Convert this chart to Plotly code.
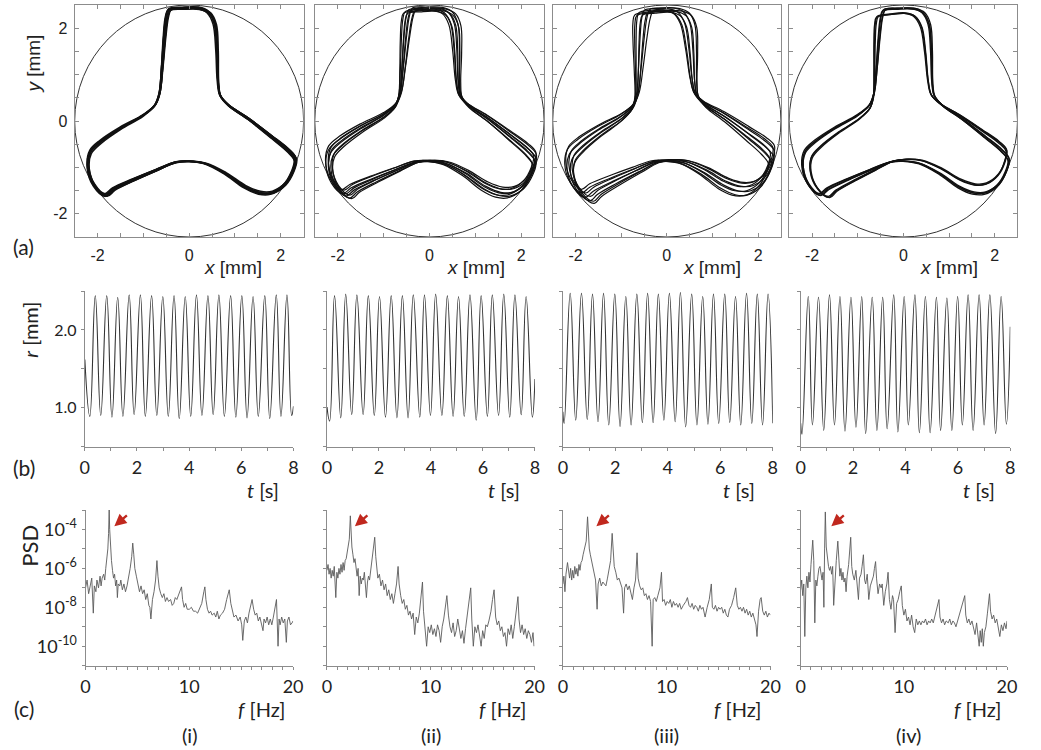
import numpy as np
import plotly.graph_objects as go

W, H = 1041, 750

# ----------------------------- DATA -----------------------------
CIRCLE_R = 2.5  # mm, boundary circle

# base three-lobed trajectory outline (mm)
OUT_X = [-0.43, -0.14, 0.22, 0.43, 0.56, 0.61, 0.63, 0.68, 0.86, 1.29, 1.80, 2.16, 2.32, 2.26, 2.08,
         1.80, 1.54, 1.22, 0.79, 0.36, 0.00, -0.29, -0.72, -1.22, -1.65, -1.83, -2.08, -2.21, -2.16,
         -1.94, -1.51, -1.01, -0.75, -0.65, -0.59, -0.54, -0.49, -0.43]
OUT_Y = [2.40, 2.43, 2.43, 2.34, 2.09, 1.52, 0.87, 0.55, 0.34, 0.05, -0.34, -0.63, -0.83, -1.09, -1.38,
         -1.55, -1.55, -1.42, -1.13, -0.92, -0.87, -0.89, -1.06, -1.27, -1.47, -1.60, -1.38, -0.99, -0.67,
         -0.45, -0.16, 0.12, 0.34, 0.59, 1.16, 1.80, 2.23, 2.40]

# per-loop (rotation in degrees, scale) estimated from the strand spread
LOOPS_I = [(-1.0, 1.00), (-0.5, 0.995), (0.0, 1.0), (0.5, 1.005), (1.0, 0.995), (0.3, 1.01), (-0.3, 0.99)]
LOOPS_II = [(-3.5, 1.0), (-2.5, 0.98), (-1.5, 1.01), (-0.5, 0.99), (0.5, 1.0), (1.5, 0.97), (2.5, 0.99), (3.5, 0.98)]
LOOPS_III = [(-3.0, 0.98), (-1.5, 1.0), (0.0, 0.97), (1.5, 1.0), (3.0, 0.96), (4.5, 0.99), (6.0, 0.97), (7.0, 0.98)]
LOOPS_IV = [(-1.0, 1.0), (-0.5, 0.99), (0.0, 1.0), (0.5, 0.995), (3.5, 0.95), (4.0, 0.955), (4.5, 0.95)]

# r(t) extrema per panel
R1_START, R1_END = (0.0, 1.62), (8.0, 1.02)
R1_TROUGH_T = [0.19, 0.61, 1.04, 1.46, 1.89, 2.32, 2.76, 3.20, 3.62, 4.06, 4.49, 4.92, 5.35, 5.79, 6.22, 6.65, 7.09, 7.52, 7.93]
R1_TROUGH_R = [0.89, 0.90, 0.88, 0.89, 0.91, 0.89, 0.90, 0.89, 0.86, 0.89, 0.90, 0.91, 0.89, 0.88, 0.87, 0.89, 0.86, 0.89, 0.90]
R1_PEAK_T = [0.40, 0.84, 1.26, 1.70, 2.13, 2.56, 2.99, 3.42, 3.85, 4.28, 4.72, 5.14, 5.59, 6.02, 6.45, 6.90, 7.34, 7.75]
R1_PEAK_R = [2.44, 2.44, 2.42, 2.45, 2.45, 2.44, 2.43, 2.44, 2.43, 2.45, 2.44, 2.45, 2.44, 2.44, 2.43, 2.44, 2.45, 2.45]

R2_START, R2_END = (0.0, 1.01), (8.0, 1.37)
R2_TROUGH_T = [0.10, 0.53, 0.95, 1.39, 1.82, 2.25, 2.69, 3.12, 3.57, 3.98, 4.42, 4.85, 5.28, 5.74, 6.17, 6.60, 7.03, 7.47, 7.90]
R2_TROUGH_R = [0.83, 0.87, 0.91, 0.91, 0.90, 0.88, 0.87, 0.87, 0.88, 0.90, 0.90, 0.89, 0.89, 0.84, 0.89, 0.90, 0.88, 0.91, 0.88]
R2_PEAK_T = [0.29, 0.72, 1.15, 1.59, 2.02, 2.47, 2.90, 3.32, 3.75, 4.18, 4.63, 5.06, 5.50, 5.93, 6.36, 6.80, 7.23, 7.66]
R2_PEAK_R = [2.44, 2.46, 2.45, 2.44, 2.43, 2.44, 2.44, 2.45, 2.45, 2.46, 2.44, 2.43, 2.45, 2.44, 2.45, 2.46, 2.45, 2.43]

R3_START, R3_END = (0.0, 0.95), (8.0, 0.80)
R3_TROUGH_T = [0.05, 0.49, 0.93, 1.34, 1.75, 2.18, 2.60, 3.03, 3.44, 3.85, 4.28, 4.68, 5.11, 5.53, 5.94, 6.36, 6.78, 7.20, 7.61]
R3_TROUGH_R = [0.80, 0.84, 0.85, 0.82, 0.78, 0.76, 0.78, 0.81, 0.81, 0.84, 0.82, 0.755, 0.78, 0.79, 0.80, 0.81, 0.78, 0.80, 0.78]
R3_PEAK_T = [0.28, 0.71, 1.13, 1.55, 1.98, 2.40, 2.82, 3.23, 3.64, 4.06, 4.48, 4.91, 5.33, 5.74, 6.17, 6.58, 7.00, 7.41, 7.82]
R3_PEAK_R = [2.47, 2.47, 2.46, 2.47, 2.46, 2.43, 2.46, 2.47, 2.46, 2.47, 2.48, 2.46, 2.43, 2.46, 2.46, 2.43, 2.47, 2.46, 2.46]

R4_START, R4_END = (0.0, 0.80), (8.0, 2.04)
R4_TROUGH_T = [0.05, 0.45, 0.88, 1.29, 1.69, 2.11, 2.48, 2.91, 3.30, 3.71, 4.11, 4.53, 4.94, 5.34, 5.77, 6.17, 6.58, 7.00, 7.44, 7.85]
R4_TROUGH_R = [0.66, 0.78, 0.71, 0.78, 0.70, 0.75, 0.67, 0.71, 0.73, 0.69, 0.78, 0.68, 0.68, 0.71, 0.71, 0.78, 0.71, 0.78, 0.67, 0.79]
R4_PEAK_T = [0.29, 0.68, 1.10, 1.50, 1.92, 2.33, 2.73, 3.13, 3.55, 3.95, 4.36, 4.76, 5.18, 5.58, 5.99, 6.39, 6.81, 7.22, 7.65]
R4_PEAK_R = [2.43, 2.42, 2.45, 2.43, 2.42, 2.43, 2.42, 2.42, 2.45, 2.43, 2.45, 2.43, 2.42, 2.41, 2.43, 2.45, 2.45, 2.45, 2.43]

# PSD spectra: (f [Hz], log10 PSD)
PSD_I = [(0.0, -7.0), (0.15, -6.6), (0.3, -7.3), (0.45, -6.8), (0.6, -6.5), (0.75, -8.3), (0.85, -6.9), (1.0, -7.2),
         (1.1, -6.6), (1.25, -7.0), (1.4, -6.4), (1.5, -6.9), (1.6, -6.5), (1.75, -6.3), (1.85, -6.6), (1.95, -6.0),
         (2.05, -5.6), (2.15, -5.0), (2.22, -4.2), (2.28, -3.0), (2.33, -4.0), (2.4, -5.0), (2.5, -5.6), (2.6, -6.1),
         (2.7, -6.5), (2.8, -6.3), (2.9, -6.9), (3.0, -6.6), (3.07, -7.5), (3.15, -6.8), (3.3, -6.9), (3.4, -6.6),
         (3.55, -7.1), (3.7, -6.8), (3.85, -7.2), (4.0, -6.9), (4.15, -6.5), (4.3, -6.0), (4.45, -5.4), (4.55, -4.7),
         (4.65, -5.3), (4.75, -6.0), (4.9, -6.4), (5.05, -6.8), (5.2, -7.2), (5.35, -6.9), (5.5, -7.3), (5.65, -7.1),
         (5.8, -7.6), (5.95, -7.3), (6.1, -7.9), (6.2, -8.0), (6.3, -8.6), (6.45, -7.6), (6.6, -7.2), (6.75, -6.6),
         (6.88, -5.6), (6.98, -6.4), (7.1, -7.0), (7.25, -7.3), (7.4, -7.5), (7.55, -7.3), (7.7, -7.7), (7.85, -7.5),
         (8.0, -7.7), (8.2, -7.6), (8.35, -7.9), (8.5, -7.8), (8.65, -7.5), (8.8, -7.6), (9.0, -7.3), (9.15, -7.0),
         (9.25, -6.95), (9.35, -7.6), (9.5, -8.0), (9.65, -7.8), (9.8, -8.1), (10.0, -8.1), (10.2, -8.0), (10.4, -8.2),
         (10.6, -8.2), (10.8, -8.3), (11.0, -8.0), (11.2, -7.8), (11.4, -7.2), (11.5, -6.95), (11.6, -7.6), (11.75, -8.1),
         (11.9, -8.3), (12.05, -8.2), (12.2, -8.4), (12.4, -8.3), (12.55, -8.5), (12.7, -8.2), (12.85, -8.6), (13.0, -8.4),
         (13.2, -8.3), (13.4, -8.1), (13.6, -7.6), (13.85, -7.1), (14.0, -7.8), (14.15, -8.2), (14.3, -8.5), (14.5, -8.4),
         (14.7, -8.7), (14.9, -8.5), (15.05, -8.9), (15.15, -9.7), (15.3, -8.7), (15.45, -8.5), (15.6, -8.8), (15.75, -8.3),
         (15.9, -8.0), (16.05, -7.6), (16.2, -8.1), (16.35, -8.4), (16.5, -8.3), (16.65, -8.7), (16.8, -8.5), (16.95, -8.8),
         (17.1, -9.2), (17.2, -8.6), (17.35, -8.8), (17.5, -8.5), (17.65, -8.9), (17.8, -8.6), (17.95, -8.9), (18.1, -8.5),
         (18.25, -8.0), (18.4, -7.6), (18.55, -10.0), (18.65, -8.6), (18.75, -8.9), (18.9, -8.5), (19.05, -8.8), (19.2, -8.6),
         (19.35, -9.8), (19.45, -8.7), (19.6, -8.5), (19.75, -8.9), (19.9, -8.8), (20.0, -8.7)]

PSD_II = [(0.0, -6.1), (0.1, -5.8), (0.2, -6.3), (0.3, -6.0), (0.4, -6.5), (0.5, -6.1), (0.6, -6.4), (0.7, -5.9),
          (0.85, -7.5), (0.95, -6.2), (1.05, -6.5), (1.15, -6.0), (1.25, -6.3), (1.35, -5.8), (1.45, -6.2), (1.55, -5.7),
          (1.65, -6.1), (1.75, -5.6), (1.85, -5.5), (1.95, -5.2), (2.05, -4.9), (2.15, -4.5), (2.25, -3.3), (2.32, -4.1),
          (2.4, -4.9), (2.5, -5.3), (2.6, -5.7), (2.7, -5.5), (2.8, -6.0), (2.9, -6.4), (3.0, -6.0), (3.1, -7.4),
          (3.2, -6.4), (3.3, -6.8), (3.4, -6.5), (3.5, -6.6), (3.6, -6.2), (3.7, -6.9), (3.8, -7.5), (3.9, -6.7),
          (4.0, -6.4), (4.1, -6.6), (4.2, -6.1), (4.35, -5.6), (4.5, -4.9), (4.6, -4.4), (4.7, -5.4), (4.8, -6.0),
          (4.9, -6.5), (5.05, -6.3), (5.2, -6.9), (5.35, -6.6), (5.5, -7.1), (5.65, -6.8), (5.8, -7.4), (5.95, -7.1),
          (6.1, -7.6), (6.25, -7.3), (6.4, -7.8), (6.55, -7.3), (6.7, -6.8), (6.85, -5.9), (6.95, -6.8), (7.1, -7.4),
          (7.25, -7.8), (7.4, -7.6), (7.55, -8.1), (7.7, -7.9), (7.85, -8.4), (8.0, -8.2), (8.15, -8.6), (8.3, -8.3),
          (8.45, -9.4), (8.6, -8.5), (8.75, -8.8), (8.9, -8.3), (9.05, -7.6), (9.2, -6.7), (9.3, -8.2), (9.45, -9.0),
          (9.6, -10.0), (9.75, -9.0), (9.9, -9.3), (10.05, -8.9), (10.2, -9.4), (10.35, -9.1), (10.5, -9.5), (10.65, -8.9),
          (10.8, -9.2), (10.95, -9.8), (11.1, -9.0), (11.25, -8.6), (11.4, -7.9), (11.55, -7.4), (11.7, -8.4), (11.85, -9.0),
          (12.0, -9.3), (12.15, -8.8), (12.3, -9.5), (12.45, -9.2), (12.6, -8.6), (12.75, -9.0), (12.9, -9.6), (13.05, -9.2),
          (13.2, -9.85), (13.35, -9.1), (13.5, -8.5), (13.7, -7.6), (13.85, -7.0), (13.95, -8.6), (14.1, -10.0), (14.25, -9.0),
          (14.4, -9.3), (14.55, -8.9), (14.7, -9.4), (14.85, -10.0), (15.0, -9.2), (15.15, -9.6), (15.3, -8.9), (15.45, -9.0),
          (15.6, -8.7), (15.8, -8.2), (15.95, -7.6), (16.1, -7.1), (16.25, -8.5), (16.4, -8.9), (16.55, -8.7), (16.7, -9.2),
          (16.85, -9.0), (17.0, -9.5), (17.15, -9.3), (17.3, -10.0), (17.45, -9.1), (17.6, -9.4), (17.75, -8.9), (17.9, -9.6),
          (18.05, -9.0), (18.2, -8.4), (18.4, -7.45), (18.5, -8.6), (18.65, -9.3), (18.8, -8.9), (18.95, -9.4), (19.1, -9.1),
          (19.25, -9.6), (19.4, -9.2), (19.55, -9.4), (19.7, -9.8), (19.85, -9.3), (19.95, -10.0)]

PSD_III = [(0.0, -6.8), (0.1, -6.4), (0.2, -7.2), (0.3, -6.3), (0.45, -5.7), (0.55, -6.2), (0.65, -6.5), (0.75, -6.0),
           (0.85, -6.6), (0.95, -6.1), (1.05, -6.5), (1.15, -5.9), (1.25, -6.3), (1.35, -6.0), (1.45, -6.4), (1.55, -5.8),
           (1.65, -6.1), (1.75, -5.7), (1.85, -5.6), (1.95, -5.3), (2.05, -5.0), (2.15, -4.9), (2.25, -4.6), (2.38, -3.35),
           (2.47, -4.4), (2.55, -5.0), (2.65, -5.3), (2.75, -5.6), (2.85, -5.9), (2.95, -6.2), (3.05, -6.5), (3.15, -6.6),
           (3.3, -8.1), (3.4, -6.8), (3.55, -6.5), (3.7, -6.9), (3.85, -6.7), (4.0, -6.8), (4.15, -6.9), (4.3, -6.5),
           (4.45, -6.1), (4.6, -5.6), (4.75, -4.2), (4.85, -5.0), (4.95, -5.9), (5.1, -6.2), (5.25, -6.6), (5.4, -6.5),
           (5.55, -6.8), (5.7, -7.0), (5.85, -8.3), (5.95, -7.0), (6.1, -6.8), (6.25, -7.1), (6.4, -6.9), (6.55, -7.2),
           (6.7, -7.6), (6.85, -7.0), (7.0, -6.6), (7.15, -5.2), (7.25, -6.5), (7.4, -6.9), (7.55, -7.1), (7.7, -7.0),
           (7.85, -7.4), (8.0, -7.3), (8.15, -7.6), (8.3, -7.4), (8.45, -7.7), (8.6, -10.0), (8.7, -7.6), (8.85, -7.5),
           (9.0, -7.7), (9.15, -7.4), (9.35, -7.0), (9.5, -6.2), (9.6, -7.7), (9.75, -7.6), (9.9, -7.9), (10.05, -7.7),
           (10.2, -7.8), (10.35, -7.6), (10.5, -8.0), (10.65, -7.7), (10.8, -7.9), (10.95, -7.8), (11.1, -8.0), (11.25, -7.8),
           (11.4, -8.1), (11.6, -7.9), (11.85, -7.7), (12.0, -7.5), (12.15, -7.9), (12.3, -8.0), (12.45, -7.8), (12.6, -8.1),
           (12.75, -7.9), (12.9, -8.0), (13.05, -8.2), (13.2, -7.9), (13.35, -8.1), (13.5, -8.0), (13.7, -8.5), (13.9, -8.0),
           (14.1, -7.6), (14.3, -6.8), (14.4, -8.0), (14.55, -8.1), (14.7, -7.9), (14.85, -8.2), (15.0, -8.0), (15.15, -8.1),
           (15.3, -8.0), (15.45, -8.3), (15.6, -8.1), (15.75, -8.4), (15.9, -8.5), (16.05, -8.1), (16.25, -7.9), (16.45, -7.5),
           (16.65, -7.0), (16.8, -7.9), (16.95, -8.1), (17.1, -8.0), (17.25, -8.2), (17.4, -8.0), (17.55, -8.3), (17.7, -8.1),
           (17.85, -8.4), (18.0, -8.2), (18.15, -8.5), (18.3, -8.3), (18.45, -8.6), (18.6, -8.9), (18.7, -9.5), (18.85, -8.2),
           (19.0, -7.6), (19.1, -7.5), (19.25, -8.2), (19.4, -8.4), (19.55, -8.2), (19.7, -8.5), (19.85, -8.3), (20.0, -8.4)]

PSD_IV = [(0.0, -7.1), (0.1, -6.6), (0.2, -7.4), (0.3, -6.8), (0.4, -9.5), (0.5, -7.0), (0.6, -6.4), (0.7, -7.0),
          (0.8, -6.2), (0.9, -6.7), (1.0, -5.8), (1.1, -5.0), (1.17, -4.55), (1.27, -5.6), (1.37, -8.8), (1.47, -6.6),
          (1.57, -6.9), (1.67, -6.4), (1.77, -6.0), (1.87, -5.9), (1.97, -6.3), (2.07, -6.6), (2.17, -6.2), (2.25, -8.0),
          (2.32, -5.0), (2.39, -3.1), (2.48, -4.9), (2.6, -5.6), (2.7, -5.9), (2.8, -6.1), (2.9, -5.9), (3.0, -6.3),
          (3.1, -5.9), (3.2, -7.9), (3.35, -6.2), (3.45, -5.6), (3.6, -4.6), (3.7, -5.6), (3.8, -6.4), (3.9, -6.0),
          (4.0, -6.6), (4.1, -6.2), (4.2, -6.7), (4.3, -6.5), (4.4, -7.2), (4.5, -6.4), (4.65, -5.8), (4.85, -4.4),
          (4.95, -5.9), (5.05, -6.3), (5.2, -6.6), (5.35, -6.1), (5.5, -6.8), (5.6, -7.6), (5.7, -6.5), (5.85, -6.3),
          (5.95, -5.9), (6.08, -5.3), (6.2, -6.6), (6.3, -6.8), (6.45, -6.3), (6.6, -7.6), (6.75, -6.9), (6.9, -6.6),
          (7.05, -6.4), (7.15, -6.0), (7.26, -5.65), (7.35, -6.5), (7.5, -7.3), (7.65, -6.8), (7.8, -7.0), (7.9, -6.8),
          (8.05, -7.9), (8.2, -7.2), (8.35, -6.8), (8.47, -6.2), (8.6, -7.6), (8.75, -8.1), (8.9, -7.4), (9.0, -7.6),
          (9.15, -9.3), (9.3, -7.8), (9.45, -7.6), (9.6, -7.2), (9.75, -6.9), (9.85, -7.9), (10.0, -8.4), (10.15, -8.1),
          (10.3, -8.7), (10.45, -8.5), (10.6, -8.9), (10.75, -8.4), (10.9, -9.0), (11.05, -9.3), (11.2, -8.6), (11.35, -8.9),
          (11.5, -8.7), (11.65, -8.9), (11.8, -8.7), (11.95, -8.8), (12.1, -8.6), (12.25, -8.9), (12.4, -8.7), (12.55, -8.8),
          (12.7, -8.6), (12.85, -8.8), (13.0, -8.5), (13.15, -8.2), (13.4, -7.6), (13.5, -8.5), (13.65, -8.8), (13.8, -8.6),
          (13.95, -8.9), (14.1, -8.7), (14.3, -8.8), (14.45, -8.6), (14.6, -8.9), (14.75, -8.7), (14.9, -8.8), (15.05, -9.0),
          (15.2, -8.7), (15.4, -8.3), (15.6, -8.0), (15.9, -7.4), (16.0, -8.4), (16.15, -8.8), (16.3, -8.6), (16.45, -8.9),
          (16.6, -8.7), (16.75, -9.0), (16.9, -9.4), (17.05, -8.8), (17.2, -9.6), (17.3, -10.0), (17.4, -9.2), (17.5, -9.8),
          (17.6, -9.1), (17.7, -10.0), (17.8, -9.3), (17.95, -9.0), (18.1, -8.3), (18.3, -7.3), (18.4, -8.2), (18.55, -8.6),
          (18.7, -8.4), (18.85, -8.8), (19.0, -8.6), (19.15, -9.1), (19.3, -9.5), (19.45, -8.9), (19.6, -9.2), (19.75, -8.8),
          (19.9, -9.1), (20.0, -8.7)]

PANEL_LABELS = ["(i)", "(ii)", "(iii)", "(iv)"]
ROW_LABELS = ["(a)", "(b)", "(c)"]

# ----------------------------- LAYOUT GEOMETRY (px) -----------------------------
A_X = [(70.7, 303.0), (314.3, 547.0), (555.7, 787.3), (795.7, 1027.3)]
A_Y = (5.0, 237.0)
B_X = [(81.0, 292.7), (326.7, 537.7), (566.0, 779.0), (807.3, 1020.0)]
B_Y = (291.0, 446.7)
C_X = [(81.7, 292.3), (326.7, 537.3), (566.0, 776.7), (807.3, 1016.7)]
C_Y = (510.0, 665.7)

FONT_A = "Liberation Sans, Arial, sans-serif"
FONT_B = "Lato, Open Sans, sans-serif"
AXC = "#8c8c8c"


def dx(a, b):
    return [a / W, b / W]


def dy(top, bot):
    return [1 - bot / H, 1 - top / H]


def ax_name(i):
    return ("x" if i == 1 else f"x{i}"), ("y" if i == 1 else f"y{i}")


def label(text, px, py, family, size, angle=0):
    return dict(text=text, x=px / W, y=1 - py / H, xref="paper", yref="paper", xanchor="center",
                yanchor="middle", showarrow=False, textangle=angle,
                font=dict(family=family, size=size, color="#222"))


fig = go.Figure()
layout = dict(width=W, height=H, margin=dict(l=0, r=0, t=0, b=0), paper_bgcolor="white",
              plot_bgcolor="white", showlegend=False)
annotations = []
shapes = []

# ---------------- row (a): trajectories ----------------
loops_all = [LOOPS_I, LOOPS_II, LOOPS_III, LOOPS_IV]
traj_width = [1.5, 1.2, 1.2, 1.3]
ox = np.array(OUT_X)
oy = np.array(OUT_Y)
a_ticks = [-2.5, -2.0, -1.5, -1.0, -0.5, 0.0, 0.5, 1.0, 1.5, 2.0, 2.5]
a_text = ["", "-2", "", "", "", "0", "", "", "", "2", ""]
for k in range(4):
    i = k + 1
    xn, yn = ax_name(i)
    for rot, sc in loops_all[k]:
        th = np.deg2rad(rot)
        xs = sc * (ox * np.cos(th) - oy * np.sin(th))
        ys = sc * (ox * np.sin(th) + oy * np.cos(th))
        fig.add_trace(go.Scatter(x=xs, y=ys, mode="lines", xaxis=xn, yaxis=yn,
                                 line=dict(color="#111111", width=traj_width[k], shape="spline", smoothing=1.0),
                                 hoverinfo="skip"))
    shapes.append(dict(type="circle", xref=xn, yref=yn, x0=-CIRCLE_R, y0=-CIRCLE_R, x1=CIRCLE_R, y1=CIRCLE_R,
                       line=dict(color="#333333", width=1), layer="below"))
    common = dict(range=[-2.5, 2.5], showline=True, linecolor=AXC, linewidth=1, mirror="ticks",
                  ticks="inside", ticklen=4, tickcolor=AXC, tickvals=a_ticks, ticktext=a_text, showgrid=False,
                  zeroline=False, tickfont=dict(family=FONT_A, size=16, color="#222"))
    layout["xaxis" if i == 1 else f"xaxis{i}"] = dict(common, domain=dx(*A_X[k]), anchor=yn, ticklabelstandoff=4)
    layout["yaxis" if i == 1 else f"yaxis{i}"] = dict(common, domain=dy(*A_Y), anchor=xn,
                                                      showticklabels=(k == 0), ticklabelstandoff=3)
    cx = [231.0, 477.5, 717.5, 958.0][k]
    annotations.append(label("<i>x</i> [mm]", cx, 268, FONT_A, 19))

annotations.append(label("<i>y</i> [mm]", 28, 64, FONT_A, 19, -90))

# ---------------- row (b): r(t) ----------------
r_sets = [(R1_START, R1_END, R1_TROUGH_T, R1_TROUGH_R, R1_PEAK_T, R1_PEAK_R),
          (R2_START, R2_END, R2_TROUGH_T, R2_TROUGH_R, R2_PEAK_T, R2_PEAK_R),
          (R3_START, R3_END, R3_TROUGH_T, R3_TROUGH_R, R3_PEAK_T, R3_PEAK_R),
          (R4_START, R4_END, R4_TROUGH_T, R4_TROUGH_R, R4_PEAK_T, R4_PEAK_R)]
for k in range(4):
    i = k + 5
    xn, yn = ax_name(i)
    st, en, tt, tr, pt, pr = r_sets[k]
    pts = [st] + list(zip(tt, tr)) + list(zip(pt, pr)) + [en]
    pts.sort(key=lambda p: p[0])
    fig.add_trace(go.Scatter(x=[p[0] for p in pts], y=[p[1] for p in pts], mode="lines", xaxis=xn, yaxis=yn,
                             line=dict(color="#333333", width=1.1, shape="spline", smoothing=1.3),
                             hoverinfo="skip"))
    layout[f"xaxis{i}"] = dict(domain=dx(*B_X[k]), anchor=yn, range=[0, 8], showline=True, linecolor=AXC,
                               linewidth=1, ticks="outside", ticklen=3, tickcolor=AXC,
                               tickvals=[0, 1, 2, 3, 4, 5, 6, 7, 8],
                               ticktext=["0", "", "2", "", "4", "", "6", "", "8"], showgrid=False, zeroline=False,
                               tickfont=dict(family=FONT_B, size=18, color="#222"), ticklabelstandoff=2)
    layout[f"yaxis{i}"] = dict(domain=dy(*B_Y), anchor=xn, range=[0.5, 2.5], showline=True, linecolor=AXC,
                               linewidth=1, ticks="outside", ticklen=3, tickcolor=AXC,
                               tickvals=[0.5, 1.0, 1.5, 2.0, 2.5], ticktext=["", "1.0", "", "2.0", ""],
                               showticklabels=(k == 0), showgrid=False, zeroline=False,
                               tickfont=dict(family=FONT_B, size=16, color="#222"), ticklabelstandoff=1)
    cx = [262.0, 506.7, 745.0, 988.0][k]
    annotations.append(label("<i>t</i> [s]", cx, 490, FONT_B, 20))

annotations.append(label("<i>r</i> [mm]", 25, 330, FONT_B, 20, -90))

# ---------------- row (c): PSD ----------------
psd_sets = [PSD_I, PSD_II, PSD_III, PSD_IV]
arrow_heads = [2.78, 2.69, 3.23, 2.97]
for k in range(4):
    i = k + 9
    xn, yn = ax_name(i)
    f = [p[0] for p in psd_sets[k]]
    v = [10.0 ** p[1] for p in psd_sets[k]]
    fig.add_trace(go.Scatter(x=f, y=v, mode="lines", xaxis=xn, yaxis=yn,
                             line=dict(color="#5a5a5a", width=0.9), hoverinfo="skip"))
    layout[f"xaxis{i}"] = dict(domain=dx(*C_X[k]), anchor=yn, range=[0, 20], showline=True, linecolor=AXC,
                               linewidth=1, ticks="outside", ticklen=3, tickcolor=AXC,
                               tickvals=list(range(0, 21)),
                               ticktext=["0"] + [""] * 9 + ["10"] + [""] * 9 + ["20"], showgrid=False,
                               zeroline=False, tickfont=dict(family=FONT_B, size=18, color="#222"),
                               ticklabelstandoff=2)
    yt = [10.0 ** e for e in range(-11, -2)]
    ytt = ["10<sup>%d</sup>" % e if e in (-4, -6, -8, -10) else "" for e in range(-11, -2)]
    layout[f"yaxis{i}"] = dict(domain=dy(*C_Y), anchor=xn, type="log", range=[-11, -3], showline=True,
                               linecolor=AXC, linewidth=1, ticks="outside", ticklen=3, tickcolor=AXC,
                               tickvals=yt, ticktext=ytt, showticklabels=(k == 0), showgrid=False,
                               zeroline=False, tickfont=dict(family=FONT_B, size=18, color="#222"),
                               ticklabelstandoff=1)
    annotations.append(dict(x=arrow_heads[k], y=-3.83, xref=xn, yref=yn, text="", showarrow=True,
                            ax=14, ay=-12, arrowhead=2, arrowsize=1.0, arrowwidth=2.4, arrowcolor="#c0281e"))
    cx = [260.0, 505.0, 743.0, 987.0][k]
    annotations.append(label("<i>f</i> [Hz]", cx, 709, FONT_B, 20))
    px = [187.0, 432.0, 671.0, 917.0][k]
    annotations.append(label(PANEL_LABELS[k], px, 735, FONT_B, 20))

annotations.append(label("PSD", 24, 546, FONT_B, 22, -90))

for lab, py in zip(ROW_LABELS, [247.0, 467.0, 708.0]):
    annotations.append(label(lab, 19, py, FONT_B, 21))

layout["annotations"] = annotations
layout["shapes"] = shapes
fig.update_layout(**layout)
fig.write_html("out.html", config={"displayModeBar": False},
               post_script="document.body.style.margin='0px';document.body.style.padding='0px';"
                           "document.documentElement.style.overflow='hidden';")
